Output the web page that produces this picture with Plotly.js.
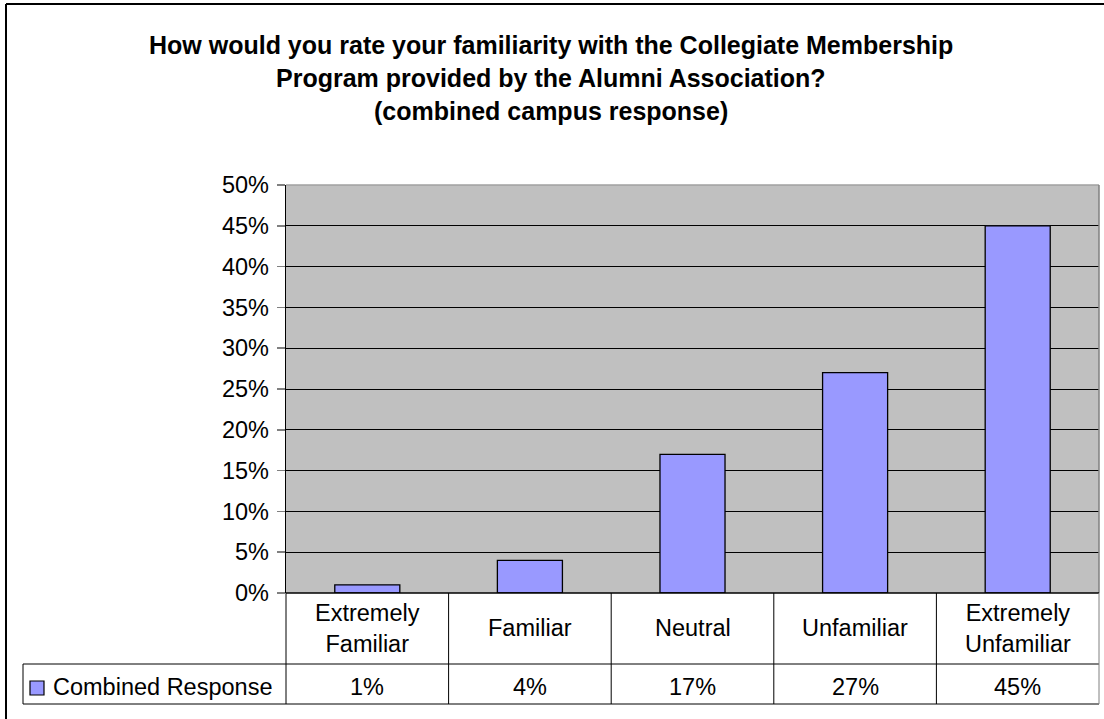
<!DOCTYPE html>
<html>
<head>
<meta charset="utf-8">
<script src="https://cdn.plot.ly/plotly-3.0.1.min.js"></script>
<style>
html,body{margin:0;padding:0;background:#fff;}
#chart{width:1104px;height:719px;}
</style>
</head>
<body>
<div id="chart"></div>
<script>
// ---- data ----
const categories = ["Extremely Familiar", "Familiar", "Neutral", "Unfamiliar", "Extremely Unfamiliar"];
const categoryLabels = ["Extremely<br>Familiar", "Familiar", "Neutral", "Unfamiliar", "Extremely<br>Unfamiliar"];
const values = [0.01, 0.04, 0.17, 0.27, 0.45];
const seriesName = "Combined Response";
const titleLines = [
  "How would you rate your familiarity with the Collegiate Membership",
  "Program provided by the Alumni Association?",
  "(combined campus response)"
];

// ---- geometry helpers (pixel -> paper) ----
const W = 1104, H = 719;
const L = 286, R = 1099, T = 185, B = 593;
const xp = px => (px - L) / (R - L);
const yp = py => (B - py) / (B - T);
const FONT = "Liberation Sans, Arial, sans-serif";
const fs = 23.5;

const trace = {
  type: "bar",
  x: categories,
  y: values,
  name: seriesName,
  marker: {color: "#9999FF", line: {color: "#000000", width: 1.3}},
  hoverinfo: "x+y"
};

const shapes = [];
const line = (x0, y0, x1, y1, color, w) => shapes.push({
  type: "line", xref: "paper", yref: "paper",
  x0: xp(x0), y0: yp(y0), x1: xp(x1), y1: yp(y1),
  line: {color: color || "#000", width: w || 1}
});
// outer chart border
line(6, 4, W, 4, "#000", 2);
line(6, 4, 6, H, "#000", 2);
// plot area border top/right
line(L, T, R, T, "#a0a0a0", 1.5);
line(R, T, R, B, "#808080", 1.5);
// data table
const rowMid = 664, rowBot = 704, legL = 23;
line(L, B, R, B, "#000", 1.3);
line(legL, rowMid, R, rowMid, "#000", 1);
line(legL, rowBot, R, rowBot, "#000", 1);
line(legL, rowMid, legL, rowBot, "#000", 1);
const step = (R - L) / categories.length;
for (let i = 0; i <= categories.length; i++) {
  const x = L + i * step;
  line(x, B, x, rowBot, i === categories.length ? "#808080" : "#000", 1);
}
// legend key square
shapes.push({type: "rect", xref: "paper", yref: "paper",
  x0: xp(30), x1: xp(44), y0: yp(695), y1: yp(681),
  fillcolor: "#9999FF", line: {color: "#000", width: 1.2}});

const annotations = [];
titleLines.forEach((t, i) => annotations.push({
  text: t, xref: "paper", yref: "paper", x: xp(551), y: yp(45 + i * 33),
  xanchor: "center", yanchor: "middle", showarrow: false,
  font: {family: FONT, size: 25, color: "#000", weight: "bold"}
}));
categories.forEach((c, i) => {
  annotations.push({
    text: categoryLabels[i], xref: "x", yref: "paper", x: c, y: yp(628),
    xanchor: "center", yanchor: "middle", showarrow: false,
    font: {family: FONT, size: fs, color: "#000"}
  });
  annotations.push({
    text: Math.round(values[i] * 100) + "%", xref: "x", yref: "paper", x: c, y: yp(687),
    xanchor: "center", yanchor: "middle", showarrow: false,
    font: {family: FONT, size: fs, color: "#000"}
  });
});
annotations.push({
  text: seriesName, xref: "paper", yref: "paper", x: xp(51), y: yp(687),
  xanchor: "left", yanchor: "middle", showarrow: false,
  font: {family: FONT, size: fs, color: "#000"}
});

const layout = {
  width: W, height: H,
  margin: {l: L, r: W - R, t: T, b: H - B, pad: 0},
  paper_bgcolor: "#ffffff",
  plot_bgcolor: "#C0C0C0",
  showlegend: false,
  bargap: 0.6,
  font: {family: FONT, size: fs, color: "#000"},
  xaxis: {
    type: "category", showticklabels: false, ticks: "", showgrid: false,
    zeroline: false, showline: false, fixedrange: true
  },
  yaxis: {
    range: [0, 0.5], dtick: 0.05, tick0: 0, tickformat: ".0%",
    showgrid: true, gridcolor: "#000", gridwidth: 1,
    ticks: "outside", ticklen: 8, tickcolor: "#808080", tickwidth: 1.5,
    showline: true, linecolor: "#000", linewidth: 1.3,
    zeroline: false, ticklabelstandoff: 3,
    tickfont: {family: FONT, size: fs, color: "#000"}, fixedrange: true
  },
  shapes: shapes,
  annotations: annotations
};

Plotly.newPlot("chart", [trace], layout, {displayModeBar: false, staticPlot: true});
</script>
</body>
</html>
